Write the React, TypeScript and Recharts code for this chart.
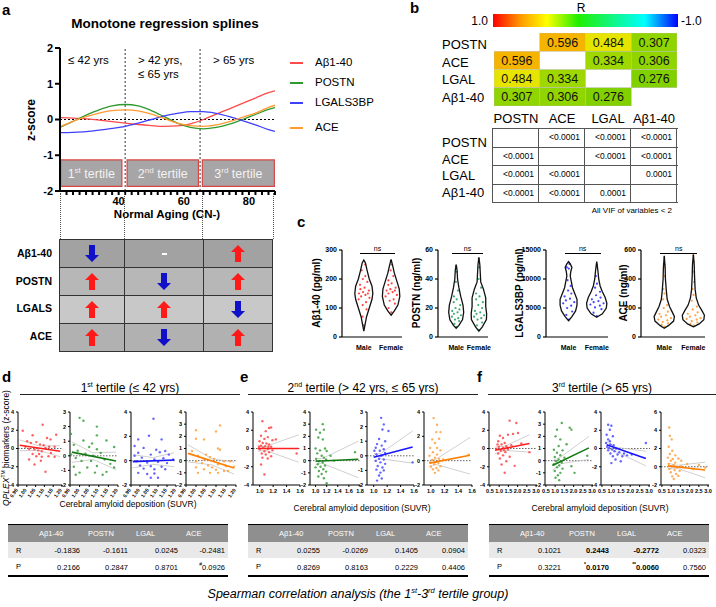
import React from "react";
import { LineChart, Line, XAxis, YAxis, ReferenceLine, ReferenceArea, ScatterChart, Scatter } from "recharts";

const F = "Arial, 'Liberation Sans', Helvetica, sans-serif";

// ---------- a: monotone regression splines ----------
const ages = [22, 26, 30, 34, 38, 42, 46, 50, 54, 58, 62, 66, 70, 74, 78, 82, 86, 88];
const abetaZ = [0.05, 0.04, 0.02, -0.02, -0.06, -0.1, -0.14, -0.17, -0.19, -0.18, -0.12, 0.0, 0.15, 0.3, 0.45, 0.6, 0.75, 0.8];
const postnZ = [-0.22, -0.05, 0.12, 0.27, 0.38, 0.42, 0.38, 0.25, 0.08, -0.1, -0.22, -0.26, -0.22, -0.13, 0.0, 0.14, 0.28, 0.33];
const lgalsZ = [-0.37, -0.36, -0.34, -0.3, -0.25, -0.19, -0.1, 0.0, 0.1, 0.17, 0.22, 0.22, 0.17, 0.08, -0.03, -0.15, -0.28, -0.33];
const aceZ = [-0.2, -0.05, 0.08, 0.18, 0.25, 0.27, 0.24, 0.15, 0.03, -0.1, -0.17, -0.19, -0.15, -0.06, 0.06, 0.18, 0.34, 0.4];
const splineNames = ["Aβ1-40", "POSTN", "LGALS3BP", "ACE"];
const splineKeys = ["abeta", "postn", "lgals", "ace"];
const splineColors = ["#ff4a4a", "#2e9a2e", "#4040ff", "#ff9a33"];
const ageTicks = [24, 26, 28, 30, 32, 34, 36, 38, 40, 42, 44, 46, 48, 50, 52, 54, 56, 58, 60, 62, 64, 66, 68, 70, 72, 74, 76, 78, 80, 82, 84, 86, 88];
const tertileBoxes = [
  { x1: 22.2, x2: 41, n: "1", sup: "st" },
  { x1: 42.6, x2: 64.5, n: "2", sup: "nd" },
  { x1: 65.7, x2: 87.8, n: "3", sup: "rd" },
];
const trendRows = ["Aβ1-40", "POSTN", "LGALS", "ACE"];
const trends = [
  ["down", "flat", "up"],
  ["up", "down", "up"],
  ["up", "up", "down"],
  ["up", "down", "up"],
];

// ---------- b: correlation matrix ----------
const corrNames = ["POSTN", "ACE", "LGAL", "Aβ1-40"];
const corrR = [
  [null, 0.596, 0.484, 0.307],
  [0.596, null, 0.334, 0.306],
  [0.484, 0.334, null, 0.276],
  [0.307, 0.306, 0.276, null],
];
const corrP = [
  ["", "<0.0001", "<0.0001", "<0.0001"],
  ["<0.0001", "", "<0.0001", "<0.0001"],
  ["<0.0001", "<0.0001", "", "0.0001"],
  ["<0.0001", "<0.0001", "0.0001", ""],
];

// ---------- c: violins (Male / Female) ----------
const abMaleVals = [40, 70, 95, 110, 120, 130, 135, 140, 145, 150, 150, 155, 160, 165, 170, 180, 190, 200, 210, 230, 250];
const abFemaleVals = [85, 100, 115, 125, 130, 140, 145, 150, 155, 160, 160, 165, 170, 180, 185, 195, 210, 230, 250, 262];
const poMaleVals = [7, 9, 11, 12, 13, 14, 15, 16, 17, 18, 19, 20, 22, 24, 26, 28, 32, 38, 45, 49];
const poFemaleVals = [5, 8, 10, 12, 13, 14, 15, 16, 17, 18, 20, 22, 24, 26, 28, 30, 34, 40, 48, 54];
const lgMaleVals = [3000, 3800, 4400, 5000, 5400, 5800, 6000, 6300, 6600, 7000, 7500, 8000, 8800, 9800, 11800, 12000, 12600];
const lgFemaleVals = [3600, 4200, 4800, 5100, 5400, 5600, 5800, 6000, 6200, 6500, 6800, 7200, 7800, 8500, 9200, 10500, 12500];
const acMaleVals = [70, 85, 95, 105, 115, 120, 130, 140, 150, 160, 175, 200, 220, 260, 300, 330, 420, 480, 500, 550];
const acFemaleVals = [80, 90, 100, 110, 120, 125, 130, 140, 150, 160, 170, 190, 210, 250, 290, 330, 380, 450, 520, 560];
// [value, half width]
const abMaleShape = [[20, 0], [40, 0.04], [70, 0.1], [100, 0.2], [130, 0.3], [150, 0.33], [175, 0.3], [200, 0.2], [230, 0.12], [255, 0.06], [265, 0]];
const abFemaleShape = [[75, 0], [90, 0.12], [110, 0.25], [140, 0.32], [165, 0.3], [190, 0.22], [220, 0.12], [245, 0.06], [268, 0]];
const poMaleShape = [[6, 0], [8, 0.12], [12, 0.28], [17, 0.33], [22, 0.3], [28, 0.2], [34, 0.12], [40, 0.06], [46, 0.04], [50, 0]];
const poFemaleShape = [[4, 0], [7, 0.15], [12, 0.33], [16, 0.34], [21, 0.3], [27, 0.3], [33, 0.2], [38, 0.08], [44, 0.06], [50, 0.04], [55, 0]];
const lgMaleShape = [[2800, 0], [3500, 0.12], [4500, 0.25], [5500, 0.3], [6500, 0.3], [7500, 0.22], [8500, 0.14], [9500, 0.1], [10500, 0.06], [11300, 0.08], [12000, 0.12], [12600, 0.06], [13000, 0]];
const lgFemaleShape = [[3400, 0], [4000, 0.2], [5000, 0.34], [5800, 0.36], [6800, 0.3], [7800, 0.2], [8800, 0.12], [10000, 0.07], [11500, 0.04], [13000, 0]];
const acMaleShape = [[60, 0], [80, 0.15], [110, 0.32], [140, 0.35], [170, 0.28], [210, 0.18], [260, 0.1], [320, 0.07], [400, 0.04], [480, 0.03], [560, 0]];
const acFemaleShape = [[70, 0], [90, 0.2], [120, 0.36], [150, 0.38], [180, 0.3], [220, 0.18], [270, 0.1], [330, 0.06], [420, 0.04], [500, 0.03], [570, 0]];

// ---------- d/e/f: SUVR vs z-score ----------
const d1Pts = [[0.977, 1.95], [1.09, 2.6], [1.033, 1.45], [1.167, 1.5], [1.115, 1.15], [1.135, 1.0], [1.002, 0.8], [1.023, 0.6], [1.054, 0.7], [1.075, 0.45], [1.096, 0.35], [1.127, 0.2], [1.158, 0.2], [0.992, 0.2], [1.013, -0.05], [1.044, -0.1], [1.065, -0.2], [1.085, -0.3], [1.106, 0.05], [1.137, -0.5], [1.033, -0.6], [1.054, -0.85], [1.085, -0.9], [1.123, -0.85], [1.158, -0.9], [1.013, -1.2], [1.044, -1.75], [1.08, -1.35], [1.106, -2.55], [1.07, -0.6]];
const d2Pts = [[1.0, 2.6], [1.02, 2.4], [0.955, 1.5], [1.09, 2.0], [1.09, 1.4], [1.02, 1.05], [1.14, 1.05], [1.065, 0.85], [0.97, 0.75], [1.18, 0.6], [1.05, 0.6], [1.09, 0.45], [0.99, 0.35], [1.11, 0.2], [1.03, 0.15], [1.07, 0], [0.955, 0.1], [0.98, -0.15], [1.01, -0.35], [1.06, -0.35], [1.13, -0.25], [1.16, -0.55], [1.18, -0.8], [0.97, -0.75], [1.04, -0.8], [1.09, -0.7], [1.0, -1.15], [1.08, -1.15], [0.98, -1.3], [1.12, -1.3], [1.14, -1.1]];
const d3Pts = [[1.075, 3.45], [1.05, 2.05], [0.99, 1.75], [1.12, 1.75], [0.97, 1.2], [1.02, 1.05], [1.09, 0.9], [1.14, 0.8], [0.99, 0.65], [1.06, 0.5], [1.11, 0.7], [1.16, 0.5], [0.97, 0.4], [1.01, 0.25], [1.08, 0.1], [1.13, 0.2], [1.185, 0.1], [0.98, -0.05], [1.04, -0.15], [1.1, -0.1], [1.15, -0.2], [1.0, -0.4], [1.06, -0.45], [1.12, -0.5], [1.02, -0.65], [1.08, -0.7], [0.99, -1.0], [1.04, -1.1], [1.08, -1.05], [1.14, -0.7], [1.06, -1.4], [1.1, -1.4]];
const d4Pts = [[1.0, 2.5], [1.0, 1.8], [1.12, 2.9], [1.1, 2.4], [1.04, 1.75], [1.11, 1.0], [1.12, 0.9], [0.98, 0.8], [1.05, 0.5], [1.01, 0.4], [1.07, 0.3], [1.04, 0.1], [1.09, 0.15], [1.0, -0.05], [1.14, -0.05], [1.17, -0.05], [1.03, -0.2], [1.06, -0.4], [1.11, -0.3], [1.15, -0.45], [1.19, -0.5], [1.08, -0.55], [1.04, -0.7], [1.1, -0.75], [1.14, -0.85], [1.01, -1.0], [1.07, -1.0], [1.11, -1.0], [1.16, -0.85], [1.0, -0.55]];
const e1Pts = [[1.04, 3.0], [1.14, 2.25], [1.17, 2.3], [1.09, 1.9], [1.02, 1.4], [1.12, 1.25], [1.07, 1.05], [1.19, 0.9], [0.997, 0.8], [1.045, 0.6], [1.1, 0.55], [1.14, 0.45], [1.02, 0.3], [1.08, 0.25], [1.17, 0.2], [1.05, 0.1], [1.12, -0.05], [1.0, -0.1], [1.19, -0.2], [1.07, -0.3], [1.14, -0.4], [1.03, -0.55], [1.09, -0.65], [1.17, -0.85], [1.04, -1.0], [1.12, -1.1], [1.02, -1.75], [1.07, -2.85], [1.55, -0.55], [1.24, 1.0], [0.99, 0.2], [1.13, 0.2]];
const e2Pts = [[1.13, 3.0], [1.01, 2.55], [1.15, 2.55], [1.08, 2.3], [1.05, 1.9], [1.13, 1.75], [1.0, 1.0], [1.17, 1.0], [1.08, 0.85], [1.2, 0.8], [1.03, 0.6], [1.11, 0.4], [1.15, 0.25], [1.01, 0.15], [1.19, 0.1], [1.06, -0.05], [1.13, -0.15], [1.04, -0.3], [1.17, -0.4], [1.09, -0.5], [1.0, -0.55], [1.14, -0.7], [1.06, -0.85], [1.19, -0.9], [1.11, -1.1], [1.05, -1.3], [1.15, -1.45], [1.2, -1.85], [1.71, 0.7], [1.27, 0.4], [1.33, 0]];
const e3Pts = [[1.11, 2.6], [1.15, 2.15], [1.13, 1.8], [1.08, 1.15], [1.17, 1.0], [1.22, 1.7], [1.05, 0.8], [1.12, 0.7], [1.03, 0.55], [1.15, 0.45], [1.09, 0.35], [1.17, 0.2], [1.04, 0.1], [1.11, 0], [1.08, -0.2], [1.15, -0.25], [1.03, -0.35], [1.1, -0.45], [1.17, -0.55], [1.06, -0.7], [1.13, -0.8], [1.04, -0.95], [1.1, -1.15], [1.15, -1.0], [1.08, -1.35], [1.12, -1.55], [1.05, -1.7], [1.58, -0.45], [1.01, 0.35]];
const e4Pts = [[1.04, 3.5], [1.09, 2.95], [1.08, 2.35], [1.14, 2.35], [1.02, 1.75], [1.12, 1.8], [1.06, 1.45], [0.99, 1.05], [1.09, 1.05], [1.14, 0.85], [1.03, 0.7], [1.09, 0.5], [0.98, 0.4], [1.06, 0.25], [1.12, 0.15], [1.02, 0.05], [1.08, -0.1], [0.99, -0.15], [1.11, -0.2], [1.05, -0.3], [1.14, -0.45], [1.0, -0.5], [1.08, -0.6], [1.03, -0.7], [1.11, -0.8], [1.06, -1.0], [1.55, 0.5], [1.18, 0.1]];
const f1Pts = [[1.57, 3.05], [1.93, 2.8], [1.04, 1.4], [1.21, 1.15], [1.48, 1.5], [1.75, 1.6], [2.02, 1.7], [0.95, 0.8], [1.3, 0.6], [1.13, 0.45], [1.39, 0.25], [0.98, 0.2], [1.66, 0.35], [1.21, 0.05], [0.86, -0.05], [1.48, -0.1], [1.09, -0.25], [1.34, -0.4], [0.95, -0.55], [1.21, -0.75], [1.57, -0.9], [1.04, -1.1], [1.39, -1.4], [1.13, -1.75], [1.3, -2.65], [1.84, -1.9], [2.64, -0.4], [2.2, 0.55], [0.91, 0.45], [1.27, -0.2]];
const f2Pts = [[1.1, 2.55], [1.36, 3.1], [1.79, 2.7], [1.88, 2.55], [1.02, 2.0], [1.28, 1.75], [1.19, 1.2], [1.62, 1.35], [0.93, 0.9], [1.4, 0.85], [1.1, 0.65], [1.28, 0.45], [0.98, 0.3], [1.5, 0.25], [1.19, 0.1], [1.05, -0.05], [1.36, -0.15], [0.93, -0.3], [1.22, -0.4], [1.1, -0.55], [1.4, -0.65], [0.98, -0.85], [1.28, -1.0], [1.15, -1.2], [1.02, -1.4], [1.22, -1.6], [2.05, -1.0], [2.74, 0.4], [1.88, -0.45]];
const f3Pts = [[0.83, 2.6], [1.0, 2.5], [0.92, 2.05], [1.08, 1.35], [0.83, 1.0], [0.72, 0.6], [0.95, 0.45], [1.12, 0.35], [0.78, 0.2], [0.88, 0.05], [1.05, -0.1], [1.25, 0], [0.83, -0.2], [1.17, -0.3], [1.42, -0.4], [1.67, -0.55], [0.95, -0.55], [1.33, -0.65], [1.58, -0.85], [1.83, -0.75], [2.08, -0.65], [1.08, -0.85], [1.22, -1.2], [1.5, -1.4], [1.0, -1.6], [2.83, 0.6], [0.75, 1.5], [0.92, 0.8]];
const f4Pts = [[0.9, 4.3], [0.93, 3.4], [1.03, 3.0], [0.87, 2.2], [1.06, 1.75], [0.93, 1.4], [1.22, 1.25], [0.82, 1.0], [1.09, 0.85], [1.39, 0.9], [0.98, 0.65], [1.22, 0.45], [1.55, 0.65], [0.87, 0.3], [1.14, 0.2], [1.87, 0.3], [1.03, 0.05], [1.3, -0.05], [1.55, 0.05], [0.9, -0.25], [1.19, -0.35], [1.46, -0.45], [2.19, -0.25], [0.98, -0.6], [1.27, -0.8], [1.06, -1.05], [1.39, -1.0], [1.14, -1.35], [2.84, -0.1], [2.51, 0.2]];
// regression endpoints and confidence band [x, lower, upper]
const d1Reg = [[0.96, 0.35], [1.19, -0.3]];
const d1Ci = [[0.96, -0.25, 0.95], [1.07, -0.22, 0.28], [1.19, -0.9, 0.3]];
const d2Reg = [[0.96, 0.25], [1.19, -0.35]];
const d2Ci = [[0.96, -0.45, 0.95], [1.07, -0.25, 0.2], [1.19, -0.95, 0.25]];
const d3Reg = [[0.96, -0.08], [1.19, 0.05]];
const d3Ci = [[0.96, -0.6, 0.5], [1.07, -0.3, 0.25], [1.19, -0.5, 0.65]];
const d4Reg = [[0.96, 0.6], [1.19, -0.6]];
const d4Ci = [[0.96, -0.1, 1.3], [1.08, -0.35, 0.15], [1.19, -1.1, -0.1]];
const e1Reg = [[0.97, 0], [1.58, 0]];
const e1Ci = [[0.97, -0.3, 0.3], [1.08, -0.2, 0.2], [1.58, -1.5, 1.5]];
const e2Reg = [[1.0, -0.05], [1.77, 0.12]];
const e2Ci = [[1.0, -0.3, 0.2], [1.11, -0.2, 0.15], [1.77, -1.4, 1.6]];
const e3Reg = [[1.0, -0.1], [1.58, 0.6]];
const e3Ci = [[1.0, -0.35, 0.15], [1.1, -0.2, 0.15], [1.58, -0.5, 1.7]];
const e4Reg = [[0.98, -0.2], [1.57, 0.45]];
const e4Ci = [[0.98, -0.45, 0.05], [1.07, -0.3, 0.1], [1.57, -1.1, 1.9]];
const f1Reg = [[0.77, -0.2], [2.64, 0.55]];
const f1Ci = [[0.77, -0.55, 0.15], [1.3, -0.2, 0.25], [2.64, -0.4, 1.5]];
const f2Reg = [[0.85, -0.4], [2.83, 1.05]];
const f2Ci = [[0.85, -0.8, 0.0], [1.3, -0.25, 0.3], [2.83, 0.1, 2.0]];
const f3Reg = [[0.75, 0.4], [2.83, -1.1]];
const f3Ci = [[0.75, 0.05, 0.75], [1.2, -0.3, 0.15], [2.83, -1.9, -0.3]];
const f4Reg = [[0.82, 0.1], [2.84, -0.35]];
const f4Ci = [[0.82, -0.2, 0.4], [1.3, -0.15, 0.15], [2.84, -1.2, 0.5]];

// ---------- Spearman tables ----------
const tableCols = ["Aβ1-40", "POSTN", "LGAL", "ACE"];
const t1R = [-0.1836, -0.1611, 0.0245, -0.2481];
const t1P = [0.2166, 0.2847, 0.8701, 0.0926];
const t1Marks = ["", "", "", "#"];
const t2R = [0.0255, -0.0269, 0.1405, 0.0904];
const t2P = [0.8269, 0.8163, 0.2229, 0.4406];
const t2Marks = ["", "", "", ""];
const t3R = [0.1021, 0.2443, -0.2772, 0.0323];
const t3P = [0.3221, 0.017, 0.006, 0.756];
const t3Marks = ["", "*", "**", ""];
const t3Bold = [false, true, true, false];

const none = () => <g />;
const dot = (fill: string, r = 1.2) => (p: any) => <circle cx={p.cx} cy={p.cy} r={r} fill={fill} fillOpacity={0.85} />;

function T({ x, y, children, s = 11, b = false, a = "l", rot = false, it = false, color = "#000" }: any) {
  const tx = a === "l" ? "0" : a === "c" ? "-50%" : "-100%";
  return (
    <div
      style={{
        position: "absolute", left: x, top: y, whiteSpace: "nowrap", lineHeight: 1, fontSize: s,
        fontWeight: b ? 700 : 400, fontStyle: it ? "italic" : "normal", color, fontFamily: F,
        transform: rot ? "translate(-50%,-50%) rotate(-90deg)" : `translate(${tx},-50%)`,
      }}
    >
      {children}
    </div>
  );
}

function Arrow({ dir }: { dir: string }) {
  if (dir === "flat") return <div style={{ width: 5, height: 2, background: "#fff" }} />;
  const up = dir === "up";
  return (
    <svg width={14} height={17}>
      <polygon
        points={up ? "7,0 14,7 10,7 10,17 4,17 4,7 0,7" : "7,17 14,10 10,10 10,0 4,0 4,10 0,10"}
        fill={up ? "#ff1a1a" : "#1010c8"}
      />
    </svg>
  );
}

function SplinePanel() {
  const data = ages.map((age, i) => ({ age, abeta: abetaZ[i], postn: postnZ[i], lgals: lgalsZ[i], ace: aceZ[i] }));
  const tick = { fontSize: 11, fontWeight: 700, fill: "#000", fontFamily: F };
  return (
    <>
      <T x={165} y={24} s={13.5} b a="c">Monotone regression splines</T>
      <LineChart width={290} height={167} data={data} margin={{ top: 8, right: 15, bottom: 0, left: 0 }} style={{ position: "absolute", left: 0, top: 40 }}>
        <XAxis dataKey="age" type="number" domain={[22, 88]} ticks={ageTicks} interval={0} allowDataOverflow
          tickFormatter={(v: number) => (v === 40 || v === 60 || v === 80 ? String(v) : "")}
          tick={tick} tickSize={4} stroke="#000" strokeWidth={2} height={16} />
        <YAxis type="number" domain={[-2, 2]} ticks={[-2, -1, 0, 1, 2]} interval={0} width={60} tick={tick} tickSize={5} stroke="#000" strokeWidth={2} />
        {tertileBoxes.map((b) => (
          <ReferenceArea key={b.n} x1={b.x1} x2={b.x2} y1={-1.87} y2={-1.13} fill="#a7a5a5" fillOpacity={1} stroke="#d84545" strokeWidth={1.2}
            label={(p: any) => {
              const v = p.viewBox;
              return (
                <text x={v.x + v.width / 2} y={v.y + v.height / 2 + 4.5} textAnchor="middle" fontSize={12.5} fill="#f2f2f2" fontFamily={F}>
                  {b.n}<tspan dy={-5} fontSize={8}>{b.sup}</tspan><tspan dy={5}> tertile</tspan>
                </text>
              );
            }} />
        ))}
        <ReferenceLine x={42} stroke="#333" strokeDasharray="2 2" />
        <ReferenceLine x={65} stroke="#333" strokeDasharray="2 2" />
        <ReferenceLine y={0} stroke="#000" strokeDasharray="2 2" />
        {splineKeys.map((k, i) => (
          <Line key={k} dataKey={k} type="monotone" stroke={splineColors[i]} strokeWidth={1.3} dot={false} isAnimationActive={false} />
        ))}
      </LineChart>
      <T x={31} y={120} s={12} b rot>z-score</T>
      <T x={68} y={61} s={11.5}>≤ 42 yrs</T>
      <T x={138} y={61} s={11.5}>&gt; 42 yrs,</T>
      <T x={138} y={75} s={11.5}>≤ 65 yrs</T>
      <T x={213} y={61} s={11.5}>&gt; 65 yrs</T>
      <T x={167} y={215} s={11.5} b a="c">Normal Aging (CN-)</T>
      {splineNames.map((n, i) => (
        <React.Fragment key={n}>
          <div style={{ position: "absolute", left: 290, top: [62, 82, 102, 127][i], width: 13, height: 1.5, background: splineColors[i] }} />
          <T x={315} y={[62, 82, 102, 127][i] + 1} s={11.5}>{n}</T>
        </React.Fragment>
      ))}
      {[60, 124, 202, 273].map((x) => (
        <div key={x} style={{ position: "absolute", left: x, top: 193, height: 46, borderLeft: "1px dotted #555" }} />
      ))}
      <div style={{ position: "absolute", left: 59, top: 239, width: 214, border: "1px solid #333", boxSizing: "border-box" }}>
        {trends.map((row, r) => (
          <div key={r} style={{ display: "flex", height: 27, background: ["#a2a2a2", "#b7b7b7", "#c8c8c8", "#b1b1b1"][r], borderTop: r ? "1px solid #333" : "none" }}>
            {row.map((d, c) => (
              <div key={c} style={{ width: [65, 78, 69][c], display: "flex", alignItems: "center", justifyContent: "center", borderLeft: c ? "1px solid #333" : "none" }}>
                <Arrow dir={d} />
              </div>
            ))}
          </div>
        ))}
      </div>
      {trendRows.map((n, i) => (
        <T key={n} x={52} y={253 + i * 27.5} s={10.5} b a="r">{n}</T>
      ))}
    </>
  );
}

const rStops: [number, string][] = [[1, "#ff0000"], [0.6, "#f5b200"], [0.48, "#e6e600"], [0.33, "#9cd800"], [0.27, "#7ecf00"], [0, "#00dd00"], [-0.5, "#00e5e5"], [-1, "#0000ff"]];
function rColor(r: number) {
  for (let i = 0; i < rStops.length - 1; i++) {
    const [a, ca] = rStops[i];
    const [b, cb] = rStops[i + 1];
    if (r <= a && r >= b) {
      const t = (a - r) / (a - b);
      const h = (c: string, k: number) => parseInt(c.slice(1 + k * 2, 3 + k * 2), 16);
      const m = [0, 1, 2].map((k) => Math.round(h(ca, k) + (h(cb, k) - h(ca, k)) * t).toString(16).padStart(2, "0"));
      return "#" + m.join("");
    }
  }
  return "#fff";
}

function CorrPanel() {
  const cells: any[] = [];
  corrR.forEach((row, r) => row.forEach((v, c) => { if (v !== null) cells.push({ x: c + 0.5, y: r + 0.5, r: v }); }));
  const CW = 45.75, CH = 18.3;
  return (
    <>
      <T x={581} y={8} s={12} a="c">R</T>
      <T x={488} y={21} s={12} a="r">1.0</T>
      <T x={681} y={21} s={12}>-1.0</T>
      <div style={{ position: "absolute", left: 493, top: 14, width: 185, height: 13, background: "linear-gradient(to right, #ff0000 0%, #ff9a00 15%, #ffff00 29%, #22ee00 46%, #00ffff 82%, #0000ff 100%)" }} />
      <ScatterChart width={183} height={73} margin={{ top: 0, right: 0, bottom: 0, left: 0 }} style={{ position: "absolute", left: 494, top: 33 }}>
        <XAxis type="number" dataKey="x" domain={[0, 4]} hide />
        <YAxis type="number" dataKey="y" domain={[0, 4]} reversed hide />
        <Scatter data={cells} isAnimationActive={false}
          shape={(p: any) => (
            <g>
              <rect x={p.cx - CW / 2} y={p.cy - CH / 2} width={CW} height={CH} fill={rColor(p.payload.r)} stroke="#bdbdbd" strokeWidth={0.5} />
              <text x={p.cx} y={p.cy + 4.5} textAnchor="middle" fontSize={12.5} fontFamily={F} fill="#111">{p.payload.r.toFixed(3)}</text>
            </g>
          )} />
      </ScatterChart>
      {corrNames.map((n, i) => (
        <React.Fragment key={n}>
          <T x={442} y={44 + i * 17.7} s={13}>{n}</T>
          <T x={516 + i * 46} y={118} s={13} a="c">{n}</T>
          <T x={442} y={142 + i * 16.5} s={13}>{n}</T>
        </React.Fragment>
      ))}
      <div style={{ position: "absolute", left: 492, top: 128, width: 185, borderTop: "1px solid #555", borderLeft: "1px solid #555" }}>
        {corrP.map((row, r) => (
          <div key={r} style={{ display: "flex", height: 18.5, boxSizing: "border-box", borderBottom: "1px solid #555" }}>
            {row.map((v, c) => (
              <div key={c} style={{ width: 46, boxSizing: "border-box", borderRight: "1px solid #555", fontSize: 8.5, textAlign: "right", paddingRight: 4, lineHeight: "17.5px", fontFamily: F }}>{v}</div>
            ))}
          </div>
        ))}
      </div>
      <T x={672} y={211} s={8} a="r">All VIF of variables &lt; 2</T>
    </>
  );
}

const jitter = [0.1, -0.55, 0.6, -0.2, 0.35, -0.7, 0.75, -0.35, 0.2, -0.6, 0.5, -0.1, 0.65, -0.45];
function halfAt(shape: number[][], v: number) {
  for (let i = 0; i < shape.length - 1; i++) {
    const [a, wa] = shape[i];
    const [b, wb] = shape[i + 1];
    if (v >= a && v <= b) return wa + ((wb - wa) * (v - a)) / (b - a);
  }
  return 0;
}
function outline(shape: number[][], cx: number) {
  const right = shape.map(([y, w]) => ({ x: cx + w, y }));
  const left = shape.slice().reverse().map(([y, w]) => ({ x: cx - w, y }));
  return [...right, ...left.slice(1, -1)];
}

function Violin({ axis, end, max, ticks, color, label, labelX, male, female, mShape, fShape }: any) {
  const yw = 28;
  const pad = 12;
  const pts = (vals: number[], shape: number[][], cx: number) =>
    vals.map((v, i) => ({ x: cx + jitter[i % jitter.length] * halfAt(shape, v) * 0.9, y: v }));
  const tick = { fontSize: 7, fontWeight: 700, fill: "#000", fontFamily: F };
  const mx = axis + ((1 - 0.2) / 2.2) * (end - axis);
  const fx = axis + ((2 - 0.2) / 2.2) * (end - axis);
  return (
    <>
      <ScatterChart width={end - axis + yw + pad} height={106} margin={{ top: 5, right: pad, bottom: 0, left: 0 }} style={{ position: "absolute", left: axis - yw, top: 245 }}>
        <XAxis type="number" dataKey="x" domain={[0.2, 2.4]} ticks={[1, 2]} interval={0} allowDataOverflow tickLine={false}
          tickFormatter={(v: number) => (v === 1 ? "Male" : "Female")} tick={tick} stroke="#000" strokeWidth={1.2} height={14} />
        <YAxis type="number" dataKey="y" domain={[0, max]} ticks={ticks} interval={0} allowDataOverflow width={yw} tickSize={3} tick={tick} stroke="#000" strokeWidth={1.2} />
        <Scatter data={pts(male, mShape, 1)} shape={dot(color, 1.1)} isAnimationActive={false} />
        <Scatter data={pts(female, fShape, 2)} shape={dot(color, 1.1)} isAnimationActive={false} />
        <Scatter data={outline(mShape, 1)} line={{ stroke: "#111", strokeWidth: 1.3 }} lineJointType="linearClosed" shape={none} isAnimationActive={false} />
        <Scatter data={outline(fShape, 2)} line={{ stroke: "#111", strokeWidth: 1.3 }} lineJointType="linearClosed" shape={none} isAnimationActive={false} />
      </ScatterChart>
      <T x={labelX} y={293} s={10} b rot>{label}</T>
      <div style={{ position: "absolute", left: mx - 4, top: 253, width: fx - mx + 8, borderTop: "1px solid #000" }} />
      <T x={(mx + fx) / 2} y={248} s={7} a="c">ns</T>
    </>
  );
}

function Mini({ axis, end, xd, xt, yd, yt, pts, reg, ci, color, lc, rot, fmt }: any) {
  const yw = 12;
  const pad = 6;
  const xh = rot ? 20 : 10;
  const tick = { fontSize: 5.5, fontWeight: 700, fill: "#000", fontFamily: F };
  const xy = (a: number[][]) => a.map(([x, y]) => ({ x, y }));
  return (
    <ScatterChart width={end - axis + yw + pad} height={3 + 73 + xh} margin={{ top: 3, right: pad, bottom: 0, left: 0 }} style={{ position: "absolute", left: axis - yw, top: 409 }}>
      <XAxis type="number" dataKey="x" domain={xd} ticks={xt} interval={0} allowDataOverflow height={xh} tickSize={2} stroke="#000"
        tick={rot
          ? (p: any) => (
            <text x={p.x} y={p.y + 1} textAnchor="end" transform={`rotate(-55 ${p.x} ${p.y + 1})`} fontSize={5} fontWeight={700} fontFamily={F}>
              {Number(p.payload.value).toFixed(2)}
            </text>
          )
          : tick}
        tickFormatter={(v: number) => v.toFixed(fmt)} />
      <YAxis type="number" dataKey="y" domain={yd} ticks={yt} interval={0} allowDataOverflow width={yw} tickSize={2} stroke="#000" tick={tick} />
      <ReferenceLine y={0} stroke="#666" strokeDasharray="1.5 1.5" />
      <Scatter data={ci.map(([x, , u]: number[]) => ({ x, y: u }))} line={{ stroke: "#c4c4c4", strokeWidth: 0.8 }} shape={none} isAnimationActive={false} />
      <Scatter data={ci.map(([x, l]: number[]) => ({ x, y: l }))} line={{ stroke: "#c4c4c4", strokeWidth: 0.8 }} shape={none} isAnimationActive={false} />
      <Scatter data={xy(pts)} shape={dot(color, 1.2)} isAnimationActive={false} />
      <Scatter data={xy(reg)} line={{ stroke: lc, strokeWidth: 1.6 }} shape={none} isAnimationActive={false} />
    </ScatterChart>
  );
}

const ptColors = ["#ff4444", "#3a9e3a", "#4a4aff", "#ffa040"];
const lnColors = ["#ff1f1f", "#137a13", "#1515ff", "#ff7f00"];

function StatsTable({ left, r, p, marks, bold }: any) {
  const w = [22, 53, 48, 50, 47];
  const cell = (i: number, txt: any, st: any = {}) => (
    <div style={{ width: w[i], boxSizing: "border-box", fontSize: 7.5, fontFamily: F, ...st }}>{txt}</div>
  );
  return (
    <div style={{ position: "absolute", left, top: 524, width: 220, borderTop: "1px solid #000", borderBottom: "2px solid #000" }}>
      <div style={{ display: "flex", height: 17, alignItems: "center", background: "#8f8f8f", color: "#fff" }}>
        {cell(0, "")}
        {tableCols.map((c, i) => cell(i + 1, c, { paddingLeft: i === 0 ? 9 : 5 }))}
      </div>
      <div style={{ display: "flex", height: 16, alignItems: "center", background: "#e9e9e9" }}>
        {cell(0, "R", { paddingLeft: 8 })}
        {r.map((v: number, i: number) => cell(i + 1, v.toFixed(4), { textAlign: "right", paddingRight: 3, fontWeight: bold && bold[i] ? 700 : 400 }))}
      </div>
      <div style={{ display: "flex", height: 17, alignItems: "center", background: "#fff" }}>
        {cell(0, "P", { paddingLeft: 8 })}
        {p.map((v: number, i: number) =>
          cell(i + 1, <><sup style={{ fontSize: 5 }}>{marks[i]}</sup>{v.toFixed(4)}</>, { textAlign: "right", paddingRight: 3, fontWeight: bold && bold[i] ? 700 : 400 }))}
      </div>
    </div>
  );
}

export default function App() {
  const dX = { xd: [0.95, 1.2], xt: [0.95, 1.0, 1.05, 1.1, 1.15, 1.2], rot: true, fmt: 2 };
  const eX = { xd: [0.9, 1.6], xt: [1.0, 1.2, 1.4, 1.6], fmt: 1 };
  const fX = { xd: [0.45, 3.05], xt: [0.5, 1.0, 1.5, 2.0, 2.5, 3.0], fmt: 1 };
  return (
    <div style={{ position: "absolute", left: 0, top: 0, width: 716, height: 607, background: "#fff", overflow: "hidden", fontFamily: F }}>
      <T x={2} y={9} s={15} b>a</T>
      <T x={410} y={7} s={15} b>b</T>
      <T x={297} y={221} s={15} b>c</T>
      <T x={2} y={376} s={15} b>d</T>
      <T x={240} y={376} s={15} b>e</T>
      <T x={477} y={376} s={15} b>f</T>

      <SplinePanel />
      <CorrPanel />

      <Violin axis={342} end={402} max={300} ticks={[0, 100, 200, 300]} color="#ff2525" label="Aβ1-40 (pg/ml)" labelX={317}
        male={abMaleVals} female={abFemaleVals} mShape={abMaleShape} fShape={abFemaleShape} />
      <Violin axis={438} end={488} max={60} ticks={[0, 20, 40, 60]} color="#1f9e5a" label="POSTN (ng/ml)" labelX={417}
        male={poMaleVals} female={poFemaleVals} mShape={poMaleShape} fShape={poFemaleShape} />
      <Violin axis={546} end={608} max={15000} ticks={[0, 5000, 10000, 15000]} color="#2525ff" label="LGALS3BP (pg/ml)" labelX={520}
        male={lgMaleVals} female={lgFemaleVals} mShape={lgMaleShape} fShape={lgFemaleShape} />
      <Violin axis={641} end={705} max={600} ticks={[0, 200, 400, 600]} color="#ff9020" label="ACE (ng/ml)" labelX={624}
        male={acMaleVals} female={acFemaleVals} mShape={acMaleShape} fShape={acFemaleShape} />

      <T x={130} y={387} s={12} a="c">1<sup style={{ fontSize: 7 }}>st</sup> tertile (≤ 42 yrs)</T>
      <T x={363} y={387} s={12} a="c">2<sup style={{ fontSize: 7 }}>nd</sup> tertile (&gt; 42 yrs, ≤ 65 yrs)</T>
      <T x={602} y={387} s={12} a="c">3<sup style={{ fontSize: 7 }}>rd</sup> tertile (&gt; 65 yrs)</T>
      <div style={{ position: "absolute", left: 20, top: 394, width: 220, borderTop: "1.5px solid #222" }} />
      <div style={{ position: "absolute", left: 248, top: 394, width: 230, borderTop: "1.5px solid #222" }} />
      <div style={{ position: "absolute", left: 488, top: 394, width: 228, borderTop: "1.5px solid #222" }} />
      <T x={6} y={448} s={8.5} rot><i>QPLEX</i><sup style={{ fontSize: 5 }}>TM</sup> biomarkers (z-score)</T>

      <Mini axis={18} end={62} {...dX} yd={[-4, 4]} yt={[-4, -2, 0, 2, 4]} pts={d1Pts} reg={d1Reg} ci={d1Ci} color={ptColors[0]} lc={lnColors[0]} />
      <Mini axis={70} end={118} {...dX} yd={[-2, 3]} yt={[-2, -1, 0, 1, 2, 3]} pts={d2Pts} reg={d2Reg} ci={d2Ci} color={ptColors[1]} lc={lnColors[1]} />
      <Mini axis={131} end={176} {...dX} yd={[-2, 4]} yt={[-2, 0, 2, 4]} pts={d3Pts} reg={d3Reg} ci={d3Ci} color={ptColors[2]} lc={lnColors[2]} />
      <Mini axis={186} end={236} {...dX} yd={[-2, 4]} yt={[-2, -1, 0, 1, 2, 3, 4]} pts={d4Pts} reg={d4Reg} ci={d4Ci} color={ptColors[3]} lc={lnColors[3]} />

      <Mini axis={253} end={300} {...eX} yd={[-4, 4]} yt={[-4, -2, 0, 2, 4]} pts={e1Pts} reg={e1Reg} ci={e1Ci} color={ptColors[0]} lc={lnColors[0]} />
      <Mini axis={310} end={360} {...eX} xd={[0.9, 1.8]} xt={[1.0, 1.2, 1.4, 1.6, 1.8]} yd={[-2, 4]} yt={[-2, -1, 0, 1, 2, 3, 4]} pts={e2Pts} reg={e2Reg} ci={e2Ci} color={ptColors[1]} lc={lnColors[1]} />
      <Mini axis={367} end={414} {...eX} yd={[-2, 3]} yt={[-2, -1, 0, 1, 2, 3]} pts={e3Pts} reg={e3Reg} ci={e3Ci} color={ptColors[2]} lc={lnColors[2]} />
      <Mini axis={424} end={472} {...eX} yd={[-2, 4]} yt={[-2, 0, 2, 4]} pts={e4Pts} reg={e4Reg} ci={e4Ci} color={ptColors[3]} lc={lnColors[3]} />

      <Mini axis={489} end={537} {...fX} yd={[-4, 4]} yt={[-4, -2, 0, 2, 4]} pts={f1Pts} reg={f1Reg} ci={f1Ci} color={ptColors[0]} lc={lnColors[0]} />
      <Mini axis={545} end={593} {...fX} yd={[-2, 4]} yt={[-2, -1, 0, 1, 2, 3, 4]} pts={f2Pts} reg={f2Reg} ci={f2Ci} color={ptColors[1]} lc={lnColors[1]} />
      <Mini axis={601} end={650} {...fX} yd={[-4, 4]} yt={[-4, -2, 0, 2, 4]} pts={f3Pts} reg={f3Reg} ci={f3Ci} color={ptColors[2]} lc={lnColors[2]} />
      <Mini axis={661} end={709} {...fX} yd={[-2, 6]} yt={[-2, 0, 2, 4, 6]} pts={f4Pts} reg={f4Reg} ci={f4Ci} color={ptColors[3]} lc={lnColors[3]} />

      <T x={128} y={504} s={8.5} a="c">Cerebral amyloid deposition (SUVR)</T>
      <T x={362} y={508} s={8.5} a="c">Cerebral amyloid deposition (SUVR)</T>
      <T x={600} y={508} s={8.5} a="c">Cerebral amyloid deposition (SUVR)</T>

      <StatsTable left={8} r={t1R} p={t1P} marks={t1Marks} />
      <StatsTable left={248} r={t2R} p={t2P} marks={t2Marks} />
      <StatsTable left={489} r={t3R} p={t3P} marks={t3Marks} bold={t3Bold} />

      <T x={358} y={594} s={12.5} it a="c">Spearman correlation analysis (the 1<sup style={{ fontSize: 7.5 }}>st</sup>-3<sup style={{ fontSize: 7.5 }}>rd</sup> tertile group)</T>
    </div>
  );
}
